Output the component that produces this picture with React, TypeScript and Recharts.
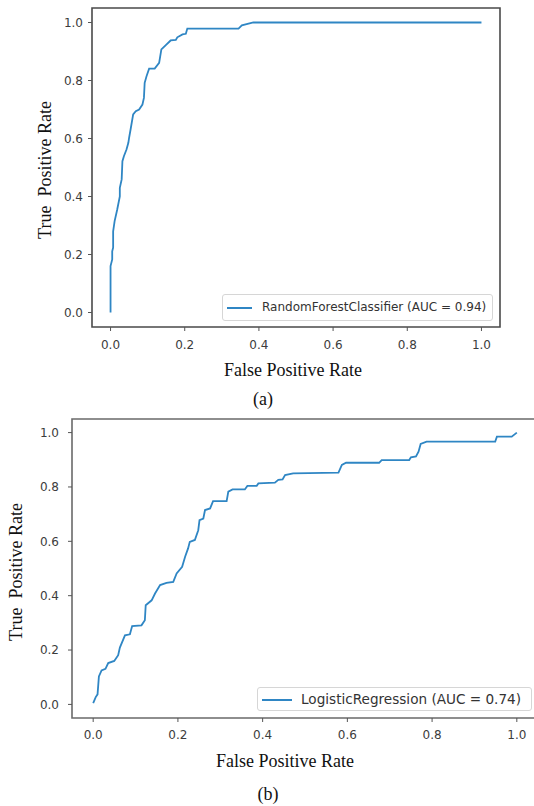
import { LineChart, Line, XAxis, YAxis, ReferenceArea } from "recharts"

// ROC curve (a) — RandomForestClassifier
const rfFpr = [
  0, 0, 0.0045, 0.0045, 0.007, 0.007, 0.011, 0.018, 0.025, 0.025, 0.03, 0.032, 0.036, 0.043,
  0.048, 0.05, 0.054, 0.061, 0.068, 0.077, 0.086, 0.09, 0.092, 0.097, 0.104, 0.119, 0.131,
  0.137, 0.149, 0.162, 0.176, 0.18, 0.194, 0.203, 0.207, 0.345, 0.354, 0.385, 1.0,
]
const rfTpr = [
  0, 0.16, 0.183, 0.211, 0.224, 0.28, 0.315, 0.355, 0.4, 0.43, 0.459, 0.522, 0.539, 0.562,
  0.585, 0.602, 0.631, 0.683, 0.694, 0.7, 0.717, 0.74, 0.792, 0.815, 0.841, 0.841, 0.861,
  0.907, 0.922, 0.938, 0.94, 0.949, 0.959, 0.961, 0.979, 0.979, 0.99, 1.0, 1.0,
]

// ROC curve (b) — LogisticRegression
const lrFpr = [
  0, 0.006, 0.0103, 0.0135, 0.0198, 0.029, 0.0355, 0.0497, 0.059, 0.063, 0.075, 0.0867, 0.092,
  0.114, 0.122, 0.124, 0.138, 0.146, 0.158, 0.173, 0.189, 0.197, 0.21, 0.217, 0.224, 0.228,
  0.24, 0.248, 0.251, 0.26, 0.264, 0.276, 0.283, 0.315, 0.319, 0.329, 0.358, 0.364, 0.386,
  0.39, 0.429, 0.437, 0.447, 0.453, 0.472, 0.579, 0.587, 0.597, 0.675, 0.681, 0.746, 0.75,
  0.762, 0.768, 0.773, 0.787, 0.949, 0.953, 0.988, 1.0,
]
const lrTpr = [
  0.005, 0.027, 0.037, 0.103, 0.125, 0.131, 0.152, 0.16, 0.181, 0.209, 0.254, 0.258, 0.288,
  0.291, 0.31, 0.365, 0.383, 0.408, 0.439, 0.447, 0.451, 0.482, 0.506, 0.543, 0.574, 0.598,
  0.605, 0.641, 0.678, 0.684, 0.715, 0.721, 0.748, 0.748, 0.783, 0.791, 0.791, 0.804, 0.804,
  0.813, 0.816, 0.826, 0.828, 0.844, 0.85, 0.853, 0.881, 0.889, 0.889, 0.899, 0.899, 0.909,
  0.912, 0.93, 0.958, 0.967, 0.967, 0.985, 0.985, 1.0,
]

const ticks = [0, 0.2, 0.4, 0.6, 0.8, 1.0]
const domain: [number, number] = [-0.05, 1.05]

const LINE = "#2f86c4"
const TICK_FONT = "'DejaVu Sans', sans-serif"
const SERIF = "'Liberation Serif', 'Times New Roman', serif"

const zip = (xs: number[], ys: number[]) => xs.map((fpr, i) => ({ fpr, tpr: ys[i] }))

const abs = (style: React.CSSProperties): React.CSSProperties => ({ position: "absolute", ...style })

function LegendBox({
  left, top, width, height, lineLen, textLeft, fontSize, label,
}: {
  left: number; top: number; width: number; height: number
  lineLen: number; textLeft: number; fontSize: number; label: string
}) {
  return (
    <div
      style={abs({
        left, top, width, height, boxSizing: "border-box",
        border: "1px solid #d6d6d6", borderRadius: 3, background: "rgba(255,255,255,0.85)",
      })}
    >
      <div style={abs({ left: 4, top: height / 2 - 1.5, width: lineLen, height: 2, background: LINE })} />
      <div
        style={abs({
          left: textLeft, top: 0, height: height - 2, lineHeight: `${height - 2}px`,
          fontFamily: TICK_FONT, fontSize, color: "#333", whiteSpace: "nowrap",
        })}
      >
        {label}
      </div>
    </div>
  )
}

function Roc({
  data, width, height, margin, tickMargins, frameTop,
}: {
  data: { fpr: number; tpr: number }[]
  width: number; height: number
  margin: { top: number; right: number; bottom: number; left: number }
  tickMargins: [number, number]
  frameTop: string
}) {
  const tick = { fontSize: 12, fill: "#3c3c3c", fontFamily: TICK_FONT }
  return (
    <LineChart width={width} height={height} data={data} margin={margin}>
      <XAxis
        type="number"
        dataKey="fpr"
        domain={domain}
        allowDataOverflow
        ticks={ticks}
        tickFormatter={(v: number) => v.toFixed(1)}
        tick={tick}
        tickSize={4}
        tickMargin={tickMargins[0]}
        axisLine={false}
        tickLine={{ stroke: "#555" }}
        height={30}
        interval={0}
      />
      <YAxis
        type="number"
        domain={domain}
        allowDataOverflow
        ticks={ticks}
        tickFormatter={(v: number) => v.toFixed(1)}
        tick={tick}
        tickSize={4}
        tickMargin={tickMargins[1]}
        axisLine={false}
        tickLine={{ stroke: "#555" }}
        width={40}
        interval={0}
      />
      <ReferenceArea x1={-0.05} x2={1.05} y1={-0.05} y2={1.05} fill="none" stroke={frameTop} strokeWidth={1.6} />
      <Line
        type="linear"
        dataKey="tpr"
        stroke={LINE}
        strokeWidth={1.8}
        dot={false}
        isAnimationActive={false}
      />
    </LineChart>
  )
}

export default function App() {
  const rf = zip(rfFpr, rfTpr)
  const lr = zip(lrFpr, lrTpr)
  const title: React.CSSProperties = { fontFamily: SERIF, fontSize: 18, lineHeight: "18px", color: "#111", whiteSpace: "pre" }

  return (
    <div style={abs({ left: 0, top: 0, width: 534, height: 806, overflow: "hidden", background: "#fff" })}>
      {/* (a) */}
      <div style={abs({ left: 0, top: 0 })}>
        <Roc
          data={rf}
          width={534}
          height={390}
          margin={{ top: 8, right: 34, bottom: 33, left: 52 }}
          tickMargins={[9, 5]}
          frameTop="#4a4a4a"
        />
      </div>
      <LegendBox left={222} top={294} width={271} height={27} lineLen={25} textLeft={39} fontSize={12}
        label="RandomForestClassifier (AUC = 0.94)" />
      <div style={abs({ ...title, left: 293, top: 361, transform: "translateX(-50%)" })}>False Positive Rate</div>
      <div style={abs({ ...title, left: 45, top: 170, transform: "translate(-50%,-50%) rotate(-90deg)" })}>
        True  Positive Rate
      </div>
      <div style={abs({ ...title, left: 263, top: 390, transform: "translateX(-50%)" })}>(a)</div>

      {/* (b) */}
      <div style={abs({ left: 0, top: 400 })}>
        <Roc
          data={lr}
          width={560}
          height={406}
          margin={{ top: 19, right: 22, bottom: 58, left: 32 }}
          tickMargins={[8, 9]}
          frameTop="#6a6a6a"
        />
      </div>
      <LegendBox left={257} top={687} width={275} height={24} lineLen={30} textLeft={43} fontSize={13.6}
        label="LogisticRegression (AUC = 0.74)" />
      <div style={abs({ ...title, left: 285, top: 752, transform: "translateX(-50%)" })}>False Positive Rate</div>
      <div style={abs({ ...title, left: 16, top: 572, transform: "translate(-50%,-50%) rotate(-90deg)" })}>
        True  Positive Rate
      </div>
      <div style={abs({ ...title, left: 268, top: 785, transform: "translateX(-50%)" })}>(b)</div>
    </div>
  )
}
